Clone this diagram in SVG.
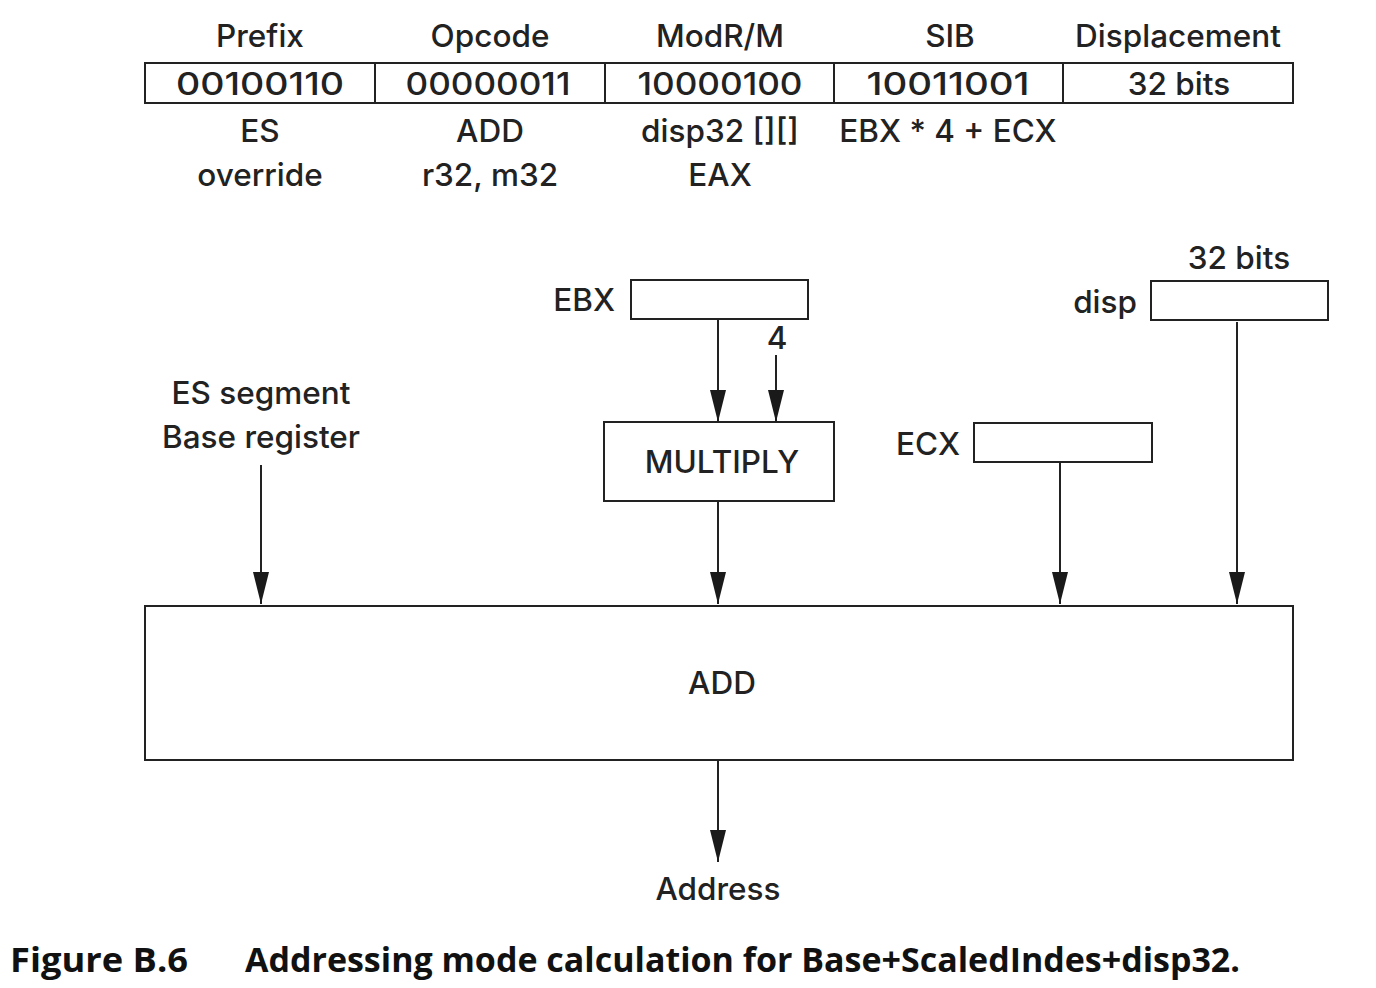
<svg xmlns="http://www.w3.org/2000/svg" width="1376" height="988" viewBox="0 0 1376 988">
<style>
text{font-family:Inter,"Open Sans","Liberation Sans",sans-serif;fill:#222;font-size:31.5px;font-weight:500}
.c{text-anchor:middle}
.r{text-anchor:end}
.box{fill:#fff;stroke:#222;stroke-width:2}
.ln{stroke:#222;stroke-width:2;fill:none;marker-end:url(#ah)}
.cap{font-family:"Open Sans","Liberation Sans",sans-serif;font-weight:bold;font-size:34px;fill:#111}
</style>
<defs>
<marker id="ah" markerUnits="userSpaceOnUse" markerWidth="32" markerHeight="16" viewBox="0 0 32 16" refX="32" refY="8" orient="auto">
<path d="M0,0 L32,8 L0,16 Z" fill="#1a1a1a"/>
</marker>
</defs>
<rect width="1376" height="988" fill="#fff"/>
<g id="table">
<rect class="box" x="145" y="63" width="1148" height="40"/>
<line x1="375" y1="63" x2="375" y2="103" stroke="#222" stroke-width="2"/>
<line x1="605" y1="63" x2="605" y2="103" stroke="#222" stroke-width="2"/>
<line x1="834" y1="63" x2="834" y2="103" stroke="#222" stroke-width="2"/>
<line x1="1063" y1="63" x2="1063" y2="103" stroke="#222" stroke-width="2"/>
<text class="c" x="260" y="47">Prefix</text>
<text class="c" x="490" y="47">Opcode</text>
<text class="c" x="720" y="47">ModR/M</text>
<text class="c" x="950" y="47">SIB</text>
<text class="c" x="1178" y="47">Displacement</text>
<text class="c" x="260" y="95" textLength="168" lengthAdjust="spacingAndGlyphs">00100110</text>
<text class="c" x="488" y="95" textLength="165" lengthAdjust="spacingAndGlyphs">00000011</text>
<text class="c" x="720" y="95" textLength="165" lengthAdjust="spacingAndGlyphs">10000100</text>
<text class="c" x="948" y="95" textLength="163" lengthAdjust="spacingAndGlyphs">10011001</text>
<text class="c" x="1179" y="95">32 bits</text>
<text class="c" x="260" y="142">ES</text>
<text class="c" x="260" y="186">override</text>
<text class="c" x="490" y="142">ADD</text>
<text class="c" x="490" y="186">r32, m32</text>
<text class="c" x="720" y="142">disp32 [][]</text>
<text class="c" x="720" y="186">EAX</text>
<text class="c" x="948" y="142">EBX * 4 + ECX</text>
</g>
<g id="ebx">
<rect class="box" x="631" y="280" width="177" height="39"/>
<text class="r" x="615" y="311">EBX</text>
</g>
<g id="four"><text class="c" x="777" y="349">4</text></g>
<g id="multiply">
<rect class="box" x="604" y="422" width="230" height="79"/>
<text class="c" x="722" y="473">MULTIPLY</text>
</g>
<g id="disp">
<rect class="box" x="1151" y="281" width="177" height="39"/>
<text class="r" x="1137" y="313">disp</text>
<text class="c" x="1239" y="269">32 bits</text>
</g>
<g id="ecx">
<rect class="box" x="974" y="423" width="178" height="39"/>
<text class="r" x="960" y="455">ECX</text>
</g>
<g id="es">
<text class="c" x="261" y="404">ES segment</text>
<text class="c" x="261" y="448">Base register</text>
</g>
<g id="add">
<rect class="box" x="145" y="606" width="1148" height="154"/>
<text class="c" x="722" y="694">ADD</text>
</g>
<g id="address"><text class="c" x="718" y="900">Address</text></g>
<g id="connectors">
<line class="ln" x1="718" y1="320" x2="718" y2="422"/>
<line class="ln" x1="776" y1="355" x2="776" y2="422"/>
<line class="ln" x1="261" y1="465" x2="261" y2="604"/>
<line class="ln" x1="718" y1="501" x2="718" y2="604"/>
<line class="ln" x1="1060" y1="463" x2="1060" y2="604"/>
<line class="ln" x1="1237" y1="322" x2="1237" y2="604"/>
<line class="ln" x1="718" y1="760" x2="718" y2="862"/>
</g>
<g id="caption">
<text class="cap" x="10" y="972" textLength="178" lengthAdjust="spacingAndGlyphs">Figure B.6</text>
<text class="cap" x="245" y="972" textLength="995" lengthAdjust="spacingAndGlyphs">Addressing mode calculation for Base+ScaledIndes+disp32.</text>
</g>
</svg>
